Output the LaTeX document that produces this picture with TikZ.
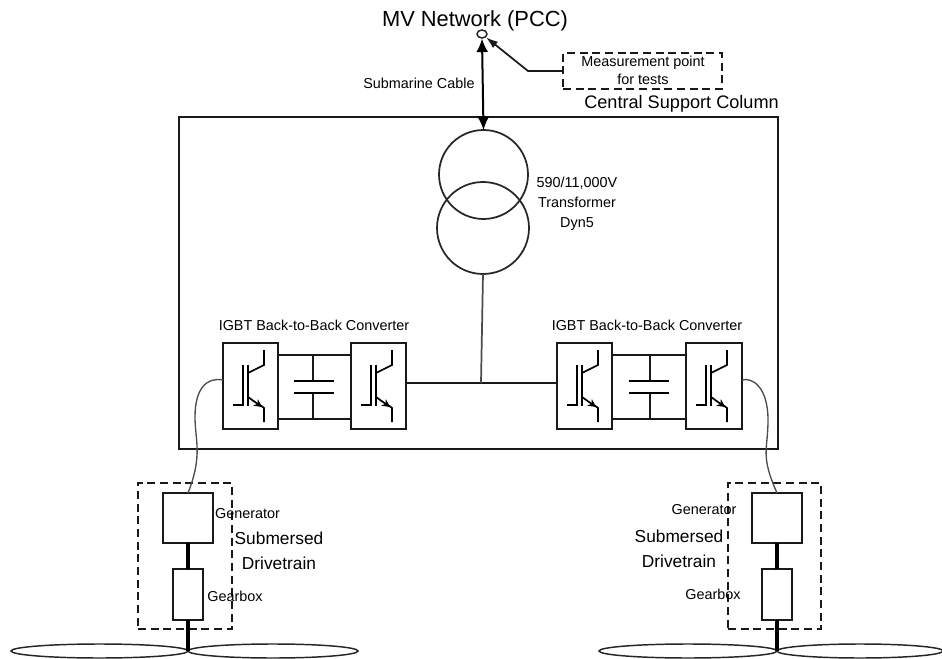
\documentclass[tikz,border=0pt]{standalone}
\usepackage{fontspec}
\setmainfont{Liberation Sans}
\usetikzlibrary{arrows.meta,shapes.geometric}
\newcommand{\igbtsym}[1]{%
  \begin{scope}[shift={(#1.north west)},line width=1.3pt]
    \draw (10,62) -- (20,62) -- (20,22);
    \draw (25,22) -- (25,63);
    \draw (25,30) -- (41,22) -- (41,7);
    \draw[-{Stealth[length=6pt,width=6pt]}] (25,54) -- (39,64);
    \draw (37,62) -- (41,65) -- (41,79);
  \end{scope}}
\tikzset{
  px/.style 2 args={minimum width=#1*0.75pt,minimum height=#2*0.75pt,inner sep=0pt,outer sep=0pt},
  wire/.style={line width=1.3pt,draw=black!90},
  solidbox/.style 2 args={px={#1}{#2},draw=black!90,line width=1.4pt},
  dashbox/.style 2 args={px={#1}{#2},draw=black!90,line width=1.4pt,dash pattern=on 6pt off 3.5pt},
  coil/.style={circle,draw=black!85,line width=1.3pt,minimum size=#1*0.75pt,inner sep=0pt,outer sep=0pt},
  blade/.style={ellipse,px={#1}{14},draw=black!85,line width=1.1pt},
  shaft/.style={line width=3.2pt,draw=black},
  cable/.style={line width=1pt,draw=black!70},
  lab/.style={text=black,font=\fontsize{10.8pt}{13pt}\selectfont,inner sep=0pt,align=center},
  biglab/.style={text=black,font=\fontsize{13pt}{16pt}\selectfont,inner sep=0pt,align=center},
}
\begin{document}
\begin{tikzpicture}[x=0.75pt,y=-0.75pt]
\useasboundingbox (0,0) rectangle (942,659);
% main box
\node[solidbox={599}{332}] (column) at (478.5,283) {};
% PCC and transformer
\node[ellipse,draw=black!85,line width=1.1pt,minimum width=10*0.75pt,minimum height=8*0.75pt,inner sep=0pt] (pcc) at (482,34) {};
\node[coil=89] (t1) at (483.5,174.5) {};
\node[coil=92] (t2) at (483,228) {};
\draw[line width=1.5pt,{Latex[length=10pt,width=9pt]}-{Latex[length=10pt,width=9pt]}] (pcc.south) -- (t1.north);
% measurement box
\node[dashbox={159}{36}] (meas) at (642.5,71) {};
\coordinate (mbend) at (528,71);
\draw[wire,-{Latex[length=9pt,width=6pt]}] (meas.west) -- (mbend) -- (pcc.south east);
% converters
\node[solidbox={55}{86}] (c1) at (250.5,386) {};
\node[solidbox={55}{86}] (c2) at (378.5,386) {};
\node[solidbox={55}{86}] (c3) at (584.5,386) {};
\node[solidbox={56}{86}] (c4) at (714,386) {};
\igbtsym{c1}\igbtsym{c2}\igbtsym{c3}\igbtsym{c4}
% dc links left
\coordinate (lpa) at (313,381); \coordinate (lpb) at (313,393);
\draw[wire] (278,355) -- (351,355);
\draw[wire] (278,419) -- (351,419);
\draw[wire] (313,355) -- (lpa);
\draw[wire] (lpb) -- (313,419);
\draw[line width=1.5pt] (294,381) -- (334,381);
\draw[line width=1.5pt] (294,393) -- (334,393);
% dc links right
\coordinate (rpa) at (650,381); \coordinate (rpb) at (650,393);
\draw[wire] (612,355) -- (686,355);
\draw[wire] (612,419) -- (686,419);
\draw[wire] (650,355) -- (rpa);
\draw[wire] (rpb) -- (650,419);
\draw[line width=1.5pt] (629,381) -- (669,381);
\draw[line width=1.5pt] (629,393) -- (669,393);
% ac bus
\coordinate (bus) at (481,383);
\draw[wire] (c2.east |- bus) -- (bus) -- (c3.west |- bus);
\draw[wire,draw=black!70] (t2.south) -- (bus);
% drivetrains
\node[dashbox={94}{146}] (dl) at (185,556) {};
\node[solidbox={50}{50}] (gl) at (188,518) {};
\node[solidbox={30}{51}] (bl) at (188,594.5) {};
\node[dashbox={93}{146}] (dr) at (774.5,556) {};
\node[solidbox={50}{50}] (gr) at (777,518) {};
\node[solidbox={30}{51}] (br) at (777,594.5) {};
\coordinate (hubl) at (188,651);
\coordinate (hubr) at (777,651);
\node[blade=177] (al) at (99.5,651) {};
\node[blade=170] (ar) at (273,651) {};
\node[blade=178] (bll) at (688,651) {};
\node[blade=166] (brr) at (860,651) {};
\draw[shaft] (gl.south) -- (bl.north);
\draw[shaft] (bl.south) -- (hubl);
\draw[shaft] (gr.south) -- (br.north);
\draw[shaft] (br.south) -- (hubr);
% cables
\draw[cable] (c1.west |- 0,380) .. controls (207,377) and (195,388) .. (195,417) .. controls (195,440) and (203,455) .. (gl.north);
\draw[cable] (c4.east |- 0,380) .. controls (753,377) and (768,388) .. (768,420) .. controls (768,450) and (760,455) .. (gr.north);
% labels
\node[text=black,font=\fontsize{16.4pt}{19pt}\selectfont,inner sep=0pt] (mv) at (475,21) {MV Network (PCC)};
\node[lab] (sc) at (419,83) {Submarine Cable};
\node[lab] (ml) at (643,70) {Measurement point\\[0.5pt]for tests};
\node[text=black,font=\fontsize{13.6pt}{16pt}\selectfont,inner sep=0pt,anchor=west] (csc) at (584,104) {Central Support Column};
\node[lab] (tl) at (577,204) {590/11,000V\\[2pt]Transformer\\[2pt]Dyn5};
\node[lab] (il) at (314,325) {IGBT Back-to-Back Converter};
\node[lab] (ir) at (647,325) {IGBT Back-to-Back Converter};
\node[lab] (gll) at (247.5,514) {Generator};
\node[lab] (bxl) at (235,596) {Gearbox};
\node[biglab] (sl) at (279,551) {Submersed\\[3pt]Drivetrain};
\node[lab] (grl) at (704,510) {Generator};
\node[lab] (bxr) at (713,594) {Gearbox};
\node[biglab] (sr) at (679,549) {Submersed\\[3pt]Drivetrain};
\end{tikzpicture}
\end{document}
